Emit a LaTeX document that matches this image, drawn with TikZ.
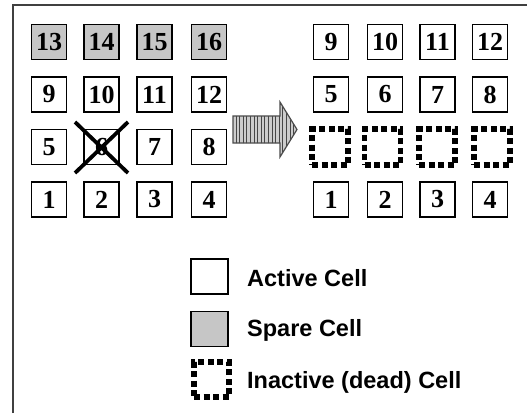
\documentclass[tikz,border=0pt]{standalone}
\usepackage{fontspec}
\setmainfont{Liberation Serif}
\newfontfamily\legendfont{Liberation Sans}
\begin{document}
\begin{tikzpicture}[x=1pt,y=-1pt,
  cell/.style={draw=black,line width=1.8pt,minimum width=35pt,minimum height=35pt,
    inner sep=0pt,font=\fontsize{26}{26}\selectfont\bfseries},
  active/.style={cell,fill=white},
  spare/.style={cell,fill=gray!45},
  dead/.style={draw=black,line width=5.5pt,dash pattern=on 6pt off 3.5pt,
    minimum width=36pt,minimum height=36pt,inner sep=0pt},
  legendtext/.style={anchor=west,inner sep=0pt,font=\legendfont\bfseries\fontsize{23.5}{24}\selectfont},
  frameline/.style={draw=black!75,line width=2pt}]
\useasboundingbox (0,0) rectangle (527,413);
% open frame: left and top edges only
\draw[frameline] (13,413) -- (13,5) -- (527,5);

% grid before repair
\foreach \x/\n [count=\i] in {49/13,101.5/14,154.5/15,209/16}
  \node[spare] (s\i) at (\x,42) {\n};
\foreach \x/\n [count=\i] in {49/9,101.5/10,154.5/11,209/12}
  \node[active] (a\i) at (\x,94.5) {\n};
\foreach \x/\n [count=\i] in {49/5,101.5/6,154.5/7,209/8}
  \node[active] (b\i) at (\x,147) {\n};
\foreach \x/\n [count=\i] in {49/1,101.5/2,154.5/3,209/4}
  \node[active] (c\i) at (\x,199.5) {\n};
% failed cell
\coordinate (xa) at (75,122);
\coordinate (xb) at (128,173);
\coordinate (xc) at (128,122);
\coordinate (xd) at (75,173);
\draw[line width=3.8pt] (xa) -- (xb) (xc) -- (xd);

% transition arrow with vertical stripes
\begin{scope}
  \path[clip] (233,116) -- (280,116) -- (280,102) -- (297,129.5) -- (280,157) -- (280,143) -- (233,143) -- cycle;
  \fill[gray!40] (230,100) rectangle (300,160);
  \foreach \k in {0,...,16}
    \draw[gray!55!black,line width=0.7pt] (236+3.6*\k,100) -- (236+3.6*\k,160);
\end{scope}
\draw[black!70,line width=1.2pt,line join=miter] (233,116) -- (280,116) -- (280,102) -- (297,129.5) -- (280,157) -- (280,143) -- (233,143) -- cycle;

% grid after repair
\foreach \x/\n [count=\i] in {331/9,385/10,437.5/11,490/12}
  \node[active] (p\i) at (\x,42) {\n};
\foreach \x/\n [count=\i] in {331/5,385/6,437.5/7,490/8}
  \node[active] (q\i) at (\x,94.5) {\n};
\foreach \x [count=\i] in {330,382.5,437,492}
  \node[dead] (d\i) at (\x,147) {};
\foreach \x/\n [count=\i] in {331/1,385/2,437.5/3,490/4}
  \node[active] (r\i) at (\x,199.5) {\n};

% legend
\node[cell,fill=white,minimum width=37pt] (la) at (209.5,276.5) {};
\node[legendtext] (lta) at (247,278) {Active Cell};
\node[cell,fill=gray!45,minimum width=37pt] (ls) at (209.5,329) {};
\node[legendtext] (lts) at (247,330) {Spare Cell};
\node[dead,minimum width=35pt,minimum height=35pt] (ld) at (211.5,379.5) {};
\node[legendtext] (ltd) at (247,382) {Inactive (dead) Cell};
\end{tikzpicture}
\end{document}
